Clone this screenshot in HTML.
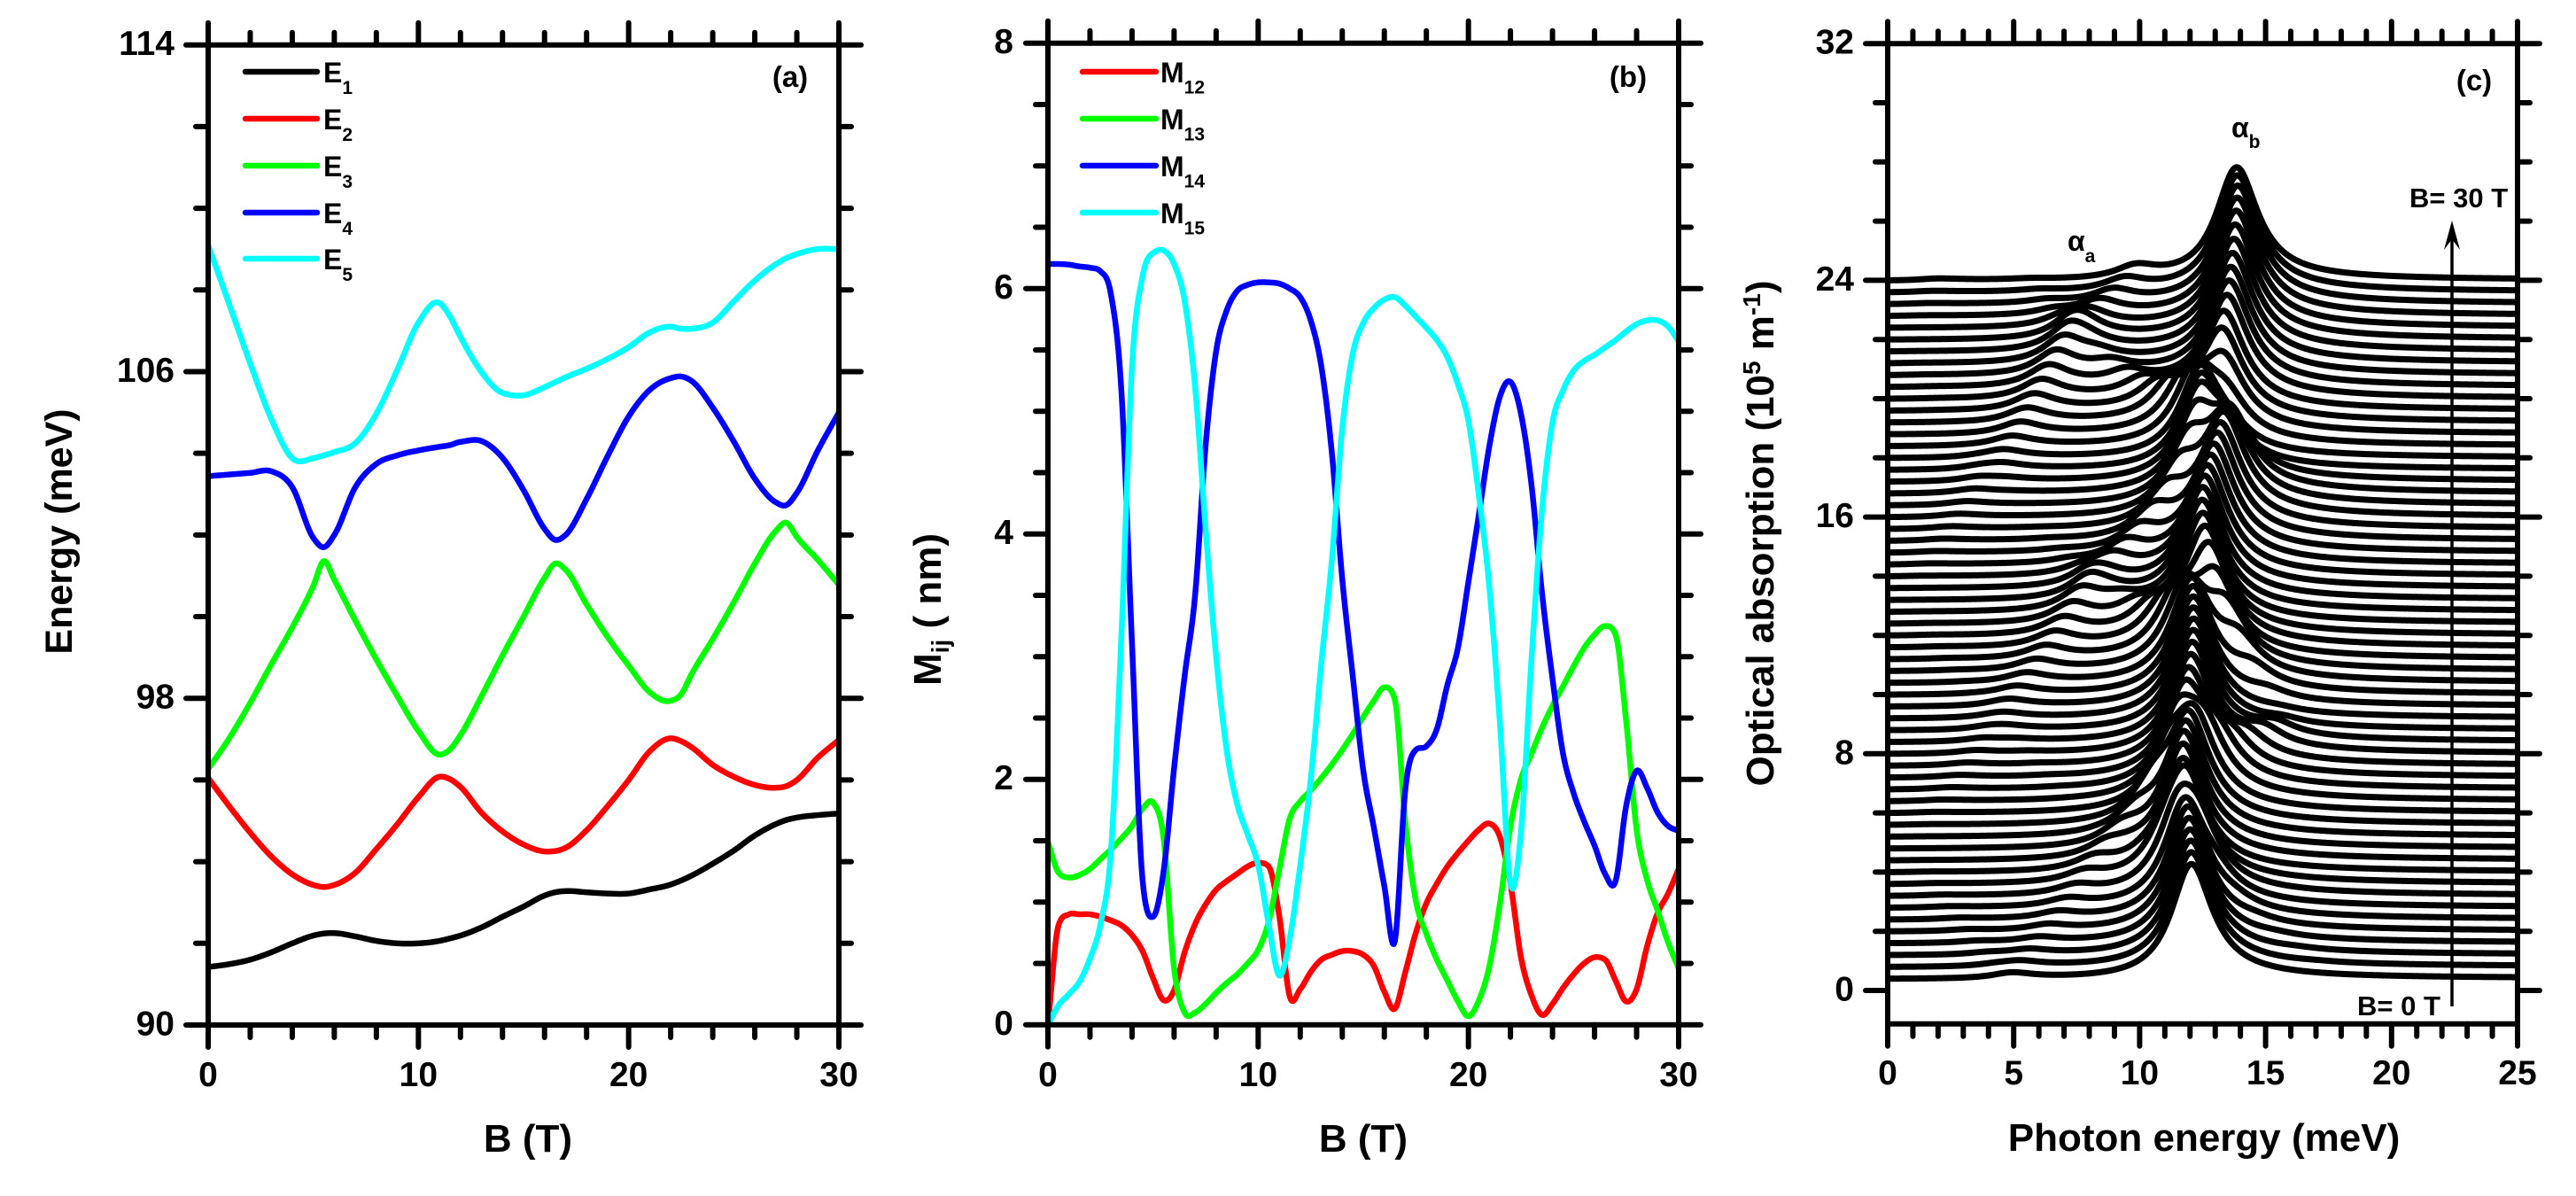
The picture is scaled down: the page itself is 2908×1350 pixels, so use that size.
<!DOCTYPE html>
<html lang="en">
<head>
<meta charset="utf-8">
<title>Energy levels, dipole matrix elements and optical absorption</title>
<style>
html,body{margin:0;padding:0;background:#fff;}
svg{display:block;}
text{font-family:"Liberation Sans",sans-serif;font-weight:bold;fill:#000;}
</style>
</head>
<body>
<svg id="figure" xmlns="http://www.w3.org/2000/svg" width="2908" height="1350" viewBox="0 0 2908 1350">
  <rect x="0" y="0" width="2908" height="1350" fill="#fff"/>

  <g id="panel-a"></g>
  <g id="panel-b"></g>
  <g id="panel-c"></g>

  <g font-size="32">
    <g><line x1="277" y1="81" x2="358" y2="81" stroke="#000" stroke-width="6.5" stroke-linecap="round"/><text x="365" y="93">E<tspan dy="13" font-size="21">1</tspan></text></g>
    <g><line x1="277" y1="134" x2="358" y2="134" stroke="#f00" stroke-width="6.5" stroke-linecap="round"/><text x="365" y="146">E<tspan dy="13" font-size="21">2</tspan></text></g>
    <g><line x1="277" y1="187" x2="358" y2="187" stroke="#0f0" stroke-width="6.5" stroke-linecap="round"/><text x="365" y="199">E<tspan dy="13" font-size="21">3</tspan></text></g>
    <g><line x1="277" y1="240" x2="358" y2="240" stroke="#00f" stroke-width="6.5" stroke-linecap="round"/><text x="365" y="252">E<tspan dy="13" font-size="21">4</tspan></text></g>
    <g><line x1="277" y1="292" x2="358" y2="292" stroke="#0ff" stroke-width="6.5" stroke-linecap="round"/><text x="365" y="304">E<tspan dy="13" font-size="21">5</tspan></text></g>
  </g>
  <g font-size="32">
    <g><line x1="1222" y1="81" x2="1305" y2="81" stroke="#f00" stroke-width="6.5" stroke-linecap="round"/><text x="1310" y="93">M<tspan dy="12.5" font-size="21">12</tspan></text></g>
    <g><line x1="1222" y1="134" x2="1305" y2="134" stroke="#0f0" stroke-width="6.5" stroke-linecap="round"/><text x="1310" y="146">M<tspan dy="12.5" font-size="21">13</tspan></text></g>
    <g><line x1="1222" y1="187" x2="1305" y2="187" stroke="#00f" stroke-width="6.5" stroke-linecap="round"/><text x="1310" y="199">M<tspan dy="12.5" font-size="21">14</tspan></text></g>
    <g><line x1="1222" y1="240" x2="1305" y2="240" stroke="#0ff" stroke-width="6.5" stroke-linecap="round"/><text x="1310" y="252">M<tspan dy="12.5" font-size="21">15</tspan></text></g>
  </g>

  <text x="892" y="98" font-size="33" text-anchor="middle">(a)</text>
  <text x="1838" y="98" font-size="33" text-anchor="middle">(b)</text>
  <text x="2793" y="102" font-size="33" text-anchor="middle">(c)</text>

  <text x="596" y="1300" font-size="44" text-anchor="middle">B (T)</text>
  <text x="1539" y="1300" font-size="44" text-anchor="middle">B (T)</text>
  <text x="2488" y="1299" font-size="44" text-anchor="middle">Photon energy (meV)</text>
  <text transform="translate(81 600) rotate(-90)" font-size="43" text-anchor="middle">Energy (meV)</text>
  <text transform="translate(1062 688) rotate(-90)" font-size="44" text-anchor="middle">M<tspan font-size="28" dy="9">ij</tspan><tspan dy="-9"> ( nm)</tspan></text>
  <text transform="translate(2002 602) rotate(-90)" font-size="44" text-anchor="middle">Optical absorption (10<tspan font-size="28" dy="-15">5</tspan><tspan dy="15"> m</tspan><tspan font-size="28" dy="-15">-1</tspan><tspan dy="15">)</tspan></text>

  <g><text x="2334" y="283" font-size="32">α<tspan font-size="21" dy="13">a</tspan></text></g>
  <g><text x="2519" y="155" font-size="32">α<tspan font-size="21" dy="12">b</tspan></text></g>
  <text x="2720" y="234" font-size="31">B= 30 T</text>
  <text x="2661" y="1146" font-size="31">B= 0 T</text>
  <g>
    <line x1="2768" y1="1136" x2="2768" y2="265" stroke="#000" stroke-width="3.5"/>
    <polygon points="2768,249 2777,282 2768,270 2759,282" fill="#000"/>
  </g>
</svg>

<script>
// ---- panel (a) data: subband energies ----
const energyField = [0,1,2,3,4,5,5.5,6,7,8,9,10,11,11.5,12,13,14,15,16,16.5,17,18,19,20,21,22,22.5,23,24,25,26,27,27.5,28,29,30];
const energyE1 = [91.42,91.49,91.6,91.78,92.0,92.19,92.24,92.25,92.17,92.06,92.0,92.0,92.06,92.12,92.19,92.39,92.65,92.9,93.17,93.25,93.28,93.25,93.22,93.22,93.32,93.44,93.54,93.66,93.95,94.27,94.64,94.92,95.02,95.08,95.14,95.18];
const energyE2 = [96.05,95.36,94.71,94.13,93.69,93.43,93.38,93.43,93.73,94.31,94.92,95.58,96.08,96.02,95.83,95.2,94.74,94.42,94.25,94.26,94.34,94.77,95.36,96.0,96.7,97.02,96.95,96.8,96.37,96.08,95.88,95.81,95.85,96.0,96.55,96.98];
const energyE3 = [96.27,97.02,97.89,98.83,99.74,100.75,101.36,100.9,99.9,98.95,98.05,97.2,96.62,96.75,97.1,98.05,99.05,100.0,100.95,101.3,101.15,100.3,99.5,98.8,98.15,97.94,98.1,98.6,99.45,100.35,101.3,102.1,102.3,101.95,101.39,100.78];
const energyE4 = [103.44,103.48,103.52,103.56,103.17,101.93,101.7,102.0,103.17,103.74,103.95,104.07,104.16,104.2,104.28,104.3,103.89,103.1,102.15,101.88,102.0,102.88,103.93,104.9,105.55,105.84,105.88,105.77,105.12,104.29,103.38,102.8,102.73,103.03,104.07,105.0];
const energyE5 = [109.1,107.65,106.2,104.84,103.88,103.88,103.95,104.03,104.25,104.97,106.05,107.2,107.68,107.35,106.85,105.99,105.48,105.42,105.62,105.74,105.86,106.07,106.31,106.6,106.96,107.1,107.05,107.05,107.2,107.72,108.23,108.63,108.78,108.88,109.0,109.0];

// ---- panel (b) data: dipole matrix elements ----
const matrixField = [0,0.5,1,1.5,2,2.5,3,3.5,4,4.5,5,5.5,6,6.5,7,7.5,8,8.5,9,9.5,10,10.5,11,11.5,12,12.5,13,13.5,14,14.5,15,15.5,16,16.5,17,17.5,18,18.5,19,19.5,20,20.5,21,21.5,22,22.5,23,23.5,24,24.5,25,25.5,26,26.5,27,27.5,28,28.5,29,29.5,30];
const matrixM12 = [0.0,0.81,0.9,0.9,0.9,0.88,0.85,0.81,0.73,0.6,0.38,0.2,0.28,0.59,0.82,0.98,1.1,1.17,1.23,1.29,1.32,1.29,0.89,0.23,0.29,0.43,0.53,0.57,0.6,0.6,0.57,0.48,0.27,0.13,0.43,0.75,0.99,1.15,1.29,1.4,1.5,1.59,1.64,1.53,1.15,0.55,0.24,0.08,0.17,0.3,0.41,0.5,0.55,0.53,0.36,0.19,0.29,0.64,0.91,1.07,1.27];
const matrixM13 = [1.49,1.24,1.2,1.22,1.27,1.35,1.43,1.52,1.62,1.76,1.81,1.52,0.46,0.1,0.1,0.17,0.26,0.34,0.41,0.5,0.61,0.84,1.26,1.68,1.82,1.91,2.01,2.12,2.24,2.37,2.51,2.64,2.75,2.65,1.65,1.01,0.74,0.53,0.36,0.19,0.07,0.2,0.48,0.99,1.62,2.0,2.21,2.42,2.6,2.76,2.92,3.07,3.18,3.25,3.18,2.48,1.59,1.18,0.93,0.67,0.46];
const matrixM14 = [6.2,6.2,6.195,6.18,6.17,6.14,5.95,5.15,3.1,1.18,0.88,1.25,2.09,2.84,3.5,4.72,5.49,5.82,5.98,6.03,6.05,6.05,6.04,6.0,5.93,5.74,5.37,4.67,3.63,2.84,2.07,1.61,1.13,0.68,1.92,2.24,2.27,2.41,2.77,3.07,3.61,4.16,4.72,5.12,5.24,4.98,4.4,3.52,2.82,2.21,1.89,1.66,1.46,1.23,1.17,1.78,2.07,1.93,1.73,1.62,1.58];
const matrixM15 = [0.0,0.157,0.25,0.35,0.54,0.82,1.42,3.2,5.37,6.1,6.29,6.31,6.2,5.9,5.2,4.04,3.0,2.24,1.8,1.55,1.3,0.82,0.4,0.7,1.3,2.0,2.94,3.78,4.86,5.47,5.72,5.84,5.91,5.93,5.86,5.77,5.68,5.58,5.44,5.22,4.92,4.31,3.56,2.45,1.15,1.57,2.98,4.19,4.91,5.17,5.33,5.41,5.46,5.52,5.58,5.65,5.71,5.74,5.74,5.69,5.57];

// ---- panel (c) data: magnetic field and vertical offset of each stacked spectrum ----
const curveFields = [0,0.51,1.02,1.53,2.03,2.54,3.05,3.56,4.07,4.58,5.08,5.59,6.1,6.61,7.12,7.63,8.14,8.64,9.15,9.66,10.17,10.68,11.19,11.69,12.2,12.71,13.22,13.73,14.24,14.75,15.25,15.76,16.27,16.78,17.29,17.8,18.31,18.81,19.32,19.83,20.34,20.85,21.36,21.86,22.37,22.88,23.39,23.9,24.41,24.92,25.42,25.93,26.44,26.95,27.46,27.97,28.47,28.98,29.49,30];
const curveOffsets = [0.4,0.8,1.2,1.6,2.0,2.4,2.8,3.2,3.6,4.0,4.4,4.8,5.2,5.6,6.0,6.4,6.8,7.2,7.6,8.0,8.4,8.8,9.2,9.6,10.0,10.4,10.8,11.2,11.6,12.0,12.4,12.8,13.2,13.6,14.0,14.4,14.8,15.2,15.6,16.0,16.4,16.8,17.2,17.6,18.0,18.4,18.8,19.2,19.6,20.0,20.4,20.8,21.2,21.6,22.0,22.4,22.8,23.2,23.6,24.0];
const peakWidth = 1.0;
const absorptionScale = 0.0208;
const strengthExponent = 1.5;

// ---- tick values and labels ----
const ticksAY = [90,98,106,114];
const ticksBY = [0,2,4,6,8];
const ticksCY = [0,8,16,24,32];
const ticksABX = [0,10,20,30];
const ticksCX = [0,5,10,15,20,25];

const NS = 'http://www.w3.org/2000/svg';

// ---- axis functions ----
const xA = b => 235 + b * (947 - 235) / 30;
const yA = e => 1157 - (e - 90) * (1157 - 50.7) / 24;
const xB = b => 1183 + b * (1895 - 1183) / 30;
const yB = m => 1156.7 - m * (1156.7 - 48.7) / 8;
const xC = w => 2131 + w * (2842 - 2131) / 25;
const yC = v => 1118 - v * 33.4;

// smooth cubic interpolation through values
function makeInterp(xs, ys) {
  const n = xs.length, d = [], m = new Array(n);
  for (let i = 0; i < n - 1; i++) d.push((ys[i + 1] - ys[i]) / (xs[i + 1] - xs[i]));
  m[0] = d[0];
  m[n - 1] = d[n - 2];
  for (let i = 1; i < n - 1; i++) {
    const h0 = xs[i] - xs[i - 1], h1 = xs[i + 1] - xs[i];
    let t = (h1 * d[i - 1] + h0 * d[i]) / (h0 + h1);
    if (d[i - 1] * d[i] > 0) {
      const lim = 3 * Math.min(Math.abs(d[i - 1]), Math.abs(d[i]));
      if (Math.abs(t) > lim) t = Math.sign(t) * lim;
    }
    m[i] = t;
  }
  return function (x) {
    let k = 0;
    while (k < n - 2 && x > xs[k + 1]) k++;
    const h = xs[k + 1] - xs[k], t = (x - xs[k]) / h;
    const t2 = t * t, t3 = t2 * t;
    return (2 * t3 - 3 * t2 + 1) * ys[k] + (t3 - 2 * t2 + t) * h * m[k] + (-2 * t3 + 3 * t2) * ys[k + 1] + (t3 - t2) * h * m[k + 1];
  };
}

function drawLine(parent, x1, y1, x2, y2, name) {
  const el = document.createElementNS(NS, 'line');
  el.setAttribute('x1', x1);
  el.setAttribute('y1', y1);
  el.setAttribute('x2', x2);
  el.setAttribute('y2', y2);
  el.setAttribute('stroke', '#000');
  el.setAttribute('stroke-width', 6);
  el.setAttribute('stroke-linecap', 'round');
  
  
  parent.appendChild(el);
}

function drawLabel(parent, x, y, label, anchor, name) {
  const el = document.createElementNS(NS, 'text');
  el.setAttribute('x', x);
  el.setAttribute('y', y);
  el.setAttribute('font-size', 39);
  el.setAttribute('text-anchor', anchor);
  
  
  el.textContent = label;
  parent.appendChild(el);
}

function drawSeries(parent, fn, x0, x1, step, xf, yf, color, width, name) {
  let d = '';
  const n = Math.round((x1 - x0) / step);
  for (let i = 0; i <= n; i++) {
    const x = x0 + i * step;
    d += (i ? 'L' : 'M') + xf(x).toFixed(2) + ' ' + yf(fn(x)).toFixed(2);
  }
  const el = document.createElementNS(NS, 'path');
  el.setAttribute('d', d);
  el.setAttribute('fill', 'none');
  el.setAttribute('stroke', color);
  el.setAttribute('stroke-width', width);
  el.setAttribute('stroke-linejoin', 'round');
  
  
  parent.appendChild(el);
}

// frame with mirrored ticks
function drawFrame(parent, cfg) {
  const L = cfg.x(cfg.xMin), R = cfg.x(cfg.xMax), T = cfg.y(cfg.yMax), B = cfg.yBottom;
  drawLine(parent, L, T, L, B, 'left-axis-line');
  drawLine(parent, R, T, R, B, 'right-axis-line');
  drawLine(parent, L, T, R, T, 'top-axis-line');
  drawLine(parent, L, B, R, B, 'bottom-axis-line');
  const nx = Math.round((cfg.xMax - cfg.xMin) / cfg.xMinor);
  for (let i = 0; i <= nx; i++) {
    const v = cfg.xMin + i * cfg.xMinor, len = cfg.xTicks.indexOf(v) >= 0 ? 25 : 14, px = cfg.x(v);
    drawLine(parent, px, B, px, B + len, 'x-tick-bottom');
    drawLine(parent, px, T, px, T - len, 'x-tick-top');
  }
  const ny = Math.round((cfg.yMax - cfg.yStart) / cfg.yMinor);
  for (let i = 0; i <= ny; i++) {
    const v = cfg.yStart + i * cfg.yMinor, len = cfg.yTicks.indexOf(v) >= 0 ? 25 : 14, py = cfg.y(v);
    drawLine(parent, L, py, L - len, py, 'y-tick-left');
    drawLine(parent, R, py, R + len, py, 'y-tick-right');
  }
  cfg.xTicks.forEach(v => drawLabel(parent, cfg.x(v), cfg.xLabelY, String(v), 'middle', 'x-tick-label'));
  cfg.yTicks.forEach(v => drawLabel(parent, cfg.yLabelX, cfg.y(v) + 11.5, String(v), 'end', 'y-tick-label'));
}

// ---- build interpolators from the arrays ----
const fE1 = makeInterp(energyField, energyE1);
const fE2 = makeInterp(energyField, energyE2);
const fE3 = makeInterp(energyField, energyE3);
const fE4 = makeInterp(energyField, energyE4);
const fE5 = makeInterp(energyField, energyE5);
const fM12 = makeInterp(matrixField, matrixM12);
const fM13 = makeInterp(matrixField, matrixM13);
const fM14 = makeInterp(matrixField, matrixM14);
const fM15 = makeInterp(matrixField, matrixM15);

// ---- panel (a) ----
const panelA = document.getElementById('panel-a');
drawSeries(panelA, fE1, 0, 30, 0.05, xA, yA, '#000', 6.5, 'series-e1');
drawSeries(panelA, fE2, 0, 30, 0.05, xA, yA, '#f00', 6.5, 'series-e2');
drawSeries(panelA, fE3, 0, 30, 0.05, xA, yA, '#0f0', 6.5, 'series-e3');
drawSeries(panelA, fE4, 0, 30, 0.05, xA, yA, '#00f', 6.5, 'series-e4');
drawSeries(panelA, fE5, 0, 30, 0.05, xA, yA, '#0ff', 6.5, 'series-e5');
drawFrame(panelA, {x: xA, y: yA, xMin: 0, xMax: 30, xMinor: 2, yStart: 90, yMax: 114, yMinor: 2, yBottom: yA(90), xTicks: ticksABX, yTicks: ticksAY, xLabelY: 1226, yLabelX: 197});

// ---- panel (b) ----
const panelB = document.getElementById('panel-b');
drawSeries(panelB, fM12, 0, 30, 0.05, xB, yB, '#f00', 6.5, 'series-m12');
drawSeries(panelB, fM13, 0, 30, 0.05, xB, yB, '#0f0', 6.5, 'series-m13');
drawSeries(panelB, fM14, 0, 30, 0.05, xB, yB, '#00f', 6.5, 'series-m14');
drawSeries(panelB, fM15, 0, 30, 0.05, xB, yB, '#0ff', 6.5, 'series-m15');
drawFrame(panelB, {x: xB, y: yB, xMin: 0, xMax: 30, xMinor: 2, yStart: 0, yMax: 8, yMinor: 0.5, yBottom: yB(0), xTicks: ticksABX, yTicks: ticksBY, xLabelY: 1226, yLabelX: 1144});

// ---- panel (c): spectra built from the level and matrix-element arrays above ----
const panelC = document.getElementById('panel-c');
curveFields.forEach(function (b, i) {
  const e1 = fE1(b);
  const lines = [
    [fE2(b) - e1, Math.abs(fM12(b))],
    [fE3(b) - e1, Math.abs(fM13(b))],
    [fE4(b) - e1, Math.abs(fM14(b))],
    [fE5(b) - e1, Math.abs(fM15(b))]
  ];
  const spectrum = function (w) {
    let s = curveOffsets[i];
    lines.forEach(function (p) {
      const dw = w - p[0];
      s += absorptionScale * w * Math.pow(p[1], strengthExponent) * peakWidth * peakWidth / (dw * dw + peakWidth * peakWidth);
    });
    return s;
  };
  drawSeries(panelC, spectrum, 0, 25, 0.05, xC, yC, '#000', 7, 'absorption-curve');
});
drawFrame(panelC, {x: xC, y: yC, xMin: 0, xMax: 25, xMinor: 1, yStart: 0, yMax: 32, yMinor: 2, yBottom: 1155.7, xTicks: ticksCX, yTicks: ticksCY, xLabelY: 1224, yLabelX: 2093});
</script>
</body>
</html>
